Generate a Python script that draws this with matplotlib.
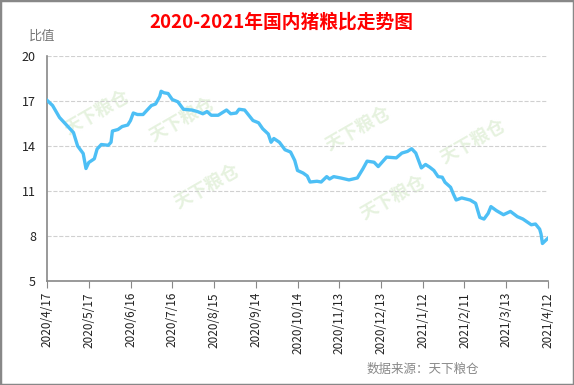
import matplotlib.pyplot as plt
from matplotlib.patches import Rectangle

plt.rcParams['font.family'] = ['Noto Sans CJK SC', 'DejaVu Sans']

# days since 2020/4/17 and pig-grain price ratio
days = [0, 4, 9, 14, 19, 22, 26, 28, 30, 34, 36, 39, 44, 46, 47, 51, 54, 58, 60, 62,
        65, 69, 75, 78, 81, 82, 84, 87, 90, 94, 98, 104, 108, 112, 115, 118, 123, 129,
        132, 136, 138, 142, 148, 152, 155, 159, 161, 163, 167, 171, 175, 178, 180, 184,
        187, 189, 194, 197, 201, 203, 206, 211, 217, 223, 227, 230, 235, 238, 244, 251,
        255, 259, 262, 265, 269, 272, 275, 278, 281, 284, 286, 290, 292, 294, 298, 304,
        308, 311, 314, 317, 319, 323, 328, 333, 338, 342, 348, 351, 354, 355, 356, 358, 360]
ratio = [17.05, 16.7, 15.9, 15.4, 14.9, 14.0, 13.5, 12.5, 12.9, 13.15, 13.8, 14.1, 14.05,
         14.25, 15.0, 15.1, 15.3, 15.4, 15.7, 16.2, 16.1, 16.1, 16.7, 16.8, 17.3, 17.65,
         17.55, 17.5, 17.1, 16.95, 16.45, 16.4, 16.3, 16.15, 16.3, 16.05, 16.05, 16.4,
         16.15, 16.2, 16.45, 16.4, 15.7, 15.55, 15.15, 14.8, 14.25, 14.5, 14.25, 13.75,
         13.6, 13.04, 12.37, 12.2, 12.0, 11.6, 11.65, 11.6, 11.96, 11.8, 11.96, 11.87,
         11.74, 11.87, 12.48, 12.99, 12.92, 12.63, 13.26, 13.21, 13.53, 13.64, 13.82,
         13.53, 12.54, 12.77, 12.59, 12.37, 11.96, 11.92, 11.58, 11.25, 10.8, 10.4, 10.54,
         10.4, 10.18, 9.24, 9.13, 9.51, 9.96, 9.69, 9.42, 9.64, 9.29, 9.13, 8.75, 8.8,
         8.46, 8.13, 7.5, 7.68, 7.86]

tick_days = [0, 30, 60, 90, 120, 150, 180, 210, 240, 270, 300, 330, 360]
tick_labels = ['2020/4/17', '2020/5/17', '2020/6/16', '2020/7/16', '2020/8/15', '2020/9/14',
               '2020/10/14', '2020/11/13', '2020/12/13', '2021/1/12', '2021/2/11',
               '2021/3/13', '2021/4/12']
y_ticks = [5, 8, 11, 14, 17, 20]

fig = plt.figure(figsize=(5.74, 3.85), dpi=100)
ax = fig.add_axes([0.0819, 0.2701, 0.8728, 0.5844])

# faint watermarks
for (wx, wy) in [(0.27, 0.72), (0.32, 0.42), (0.62, 0.68), (0.85, 0.62), (0.69, 0.37), (0.1, 0.75)]:
    ax.text(wx, wy, '天下粮仓', transform=ax.transAxes, rotation=30, fontsize=13,
            fontweight='bold', color='#e6f2df', ha='center', va='center', zorder=0)

ax.plot(days, ratio, color='#4dbff5', linewidth=2.4, solid_joinstyle='round', zorder=3)

ax.set_xlim(0, 360)
ax.set_ylim(5, 20)
ax.set_yticks(y_ticks)
ax.set_yticklabels([str(v) for v in y_ticks], fontsize=9, color='#222222')
ax.set_xticks(tick_days)
ax.set_xticklabels(tick_labels, rotation=90, fontsize=8.5, color='#222222')
ax.tick_params(axis='x', length=5, color='#888888', pad=3)
ax.tick_params(axis='y', length=0, pad=8)
ax.grid(axis='y', linestyle='--', color='#d0d0d0', linewidth=0.8)
ax.set_axisbelow(True)
for s in ['top', 'right']:
    ax.spines[s].set_visible(False)
for s in ['left', 'bottom']:
    ax.spines[s].set_color('#888888')
    ax.spines[s].set_linewidth(1.2)

fig.text(0.49, 0.943, '2020-2021年国内猪粮比走势图', color='#ff0000', fontsize=13.5,
         ha='center', va='center', fontweight='bold')
fig.text(0.05, 0.906, '比值', color='#777777', fontsize=9.5, ha='left', va='center')
fig.text(0.835, 0.04, '数据来源：天下粮仓', color='#888888', fontsize=9, style='italic',
         ha='right', va='center')

fig.patches.append(Rectangle((0, 0), 1, 1, transform=fig.transFigure, fill=False,
                             edgecolor='#888888', linewidth=2.5))

fig.savefig('out.png', dpi=100)
